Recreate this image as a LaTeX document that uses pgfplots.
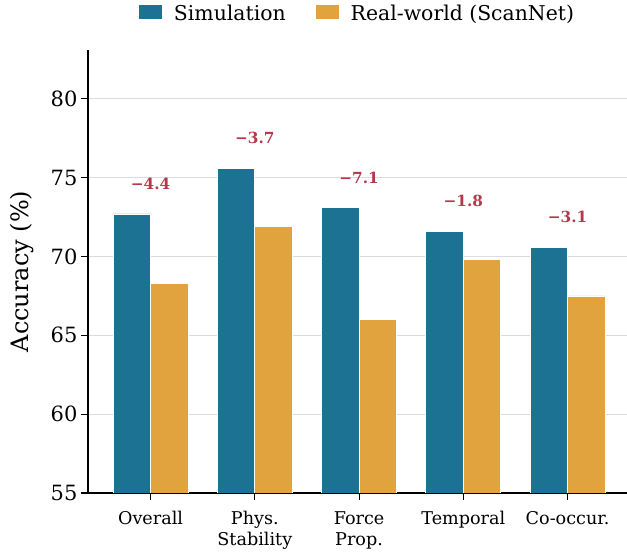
\documentclass[border=0pt]{standalone}
\usepackage{fontspec}
\setmainfont{DejaVu Serif}
\usepackage{pgfplots}
\pgfplotsset{compat=1.18}
\definecolor{simblue}{RGB}{28,114,147}
\definecolor{realorange}{RGB}{224,163,61}
\definecolor{annred}{RGB}{181,57,74}
\definecolor{gridgray}{RGB}{216,220,225}
\begin{document}
\begin{tikzpicture}
\path[use as bounding box] (-88pt,-61pt) rectangle (539pt,493pt);
\begin{axis}[
  scale only axis, width=539pt, height=443pt,
  xmin=-0.6, xmax=4.57, ymin=55, ymax=83.1,
  axis x line*=bottom, axis y line*=left,
  axis line style={line width=1.2pt, black},
  xtick={0,1,2,3,4},
  xticklabels={Overall, Phys.\\Stability, Force\\Prop., Temporal, Co-occur.},
  ytick={55,60,65,70,75,80},
  tick align=outside, major tick length=7pt,
  tick style={line width=1.1pt, black},
  ymajorgrids, major grid style={gridgray, line width=1pt},
  xticklabel style={font=\fontsize{17.6}{21}\selectfont, align=center, yshift=-8pt},
  yticklabel style={font=\fontsize{21}{25}\selectfont},
  /pgf/number format/assume math mode=true,
  ylabel={Accuracy (\%)},
  ylabel style={font=\fontsize{24}{28}\selectfont, yshift=10pt},
  legend style={at={(0.5,1)}, anchor=south, yshift=24pt, draw=none, fill=none,
    font=\fontsize{20.4}{24}\selectfont,
    /tikz/every odd column/.append style={column sep=10pt},
    /tikz/every even column/.append style={column sep=28pt}},
  legend columns=2,
  legend image code/.code={\path[#1, draw=none] (0pt,-6pt) rectangle (23pt,8pt);},
]
\addplot[ybar, bar width=0.36, bar shift=-0.18, fill=simblue, draw=white, line width=0.8pt]
  coordinates {(0,72.7) (1,75.6) (2,73.1) (3,71.6) (4,70.6)};
\addlegendentry{Simulation}
\addplot[ybar, bar width=0.36, bar shift=0.18, fill=realorange, draw=white, line width=0.8pt]
  coordinates {(0,68.3) (1,71.9) (2,66.0) (3,69.8) (4,67.5)};
\addlegendentry{Real-world (ScanNet)}
\tikzset{ann/.style={font=\bfseries\fontsize{15.3}{18}\selectfont, text=annred}}
\node[ann] at (axis cs:0,74.6) {−4.4};
\node[ann] at (axis cs:1,77.5) {−3.7};
\node[ann] at (axis cs:2,75.0) {−7.1};
\node[ann] at (axis cs:3,73.5) {−1.8};
\node[ann] at (axis cs:4,72.5) {−3.1};
\end{axis}
\end{tikzpicture}
\end{document}
